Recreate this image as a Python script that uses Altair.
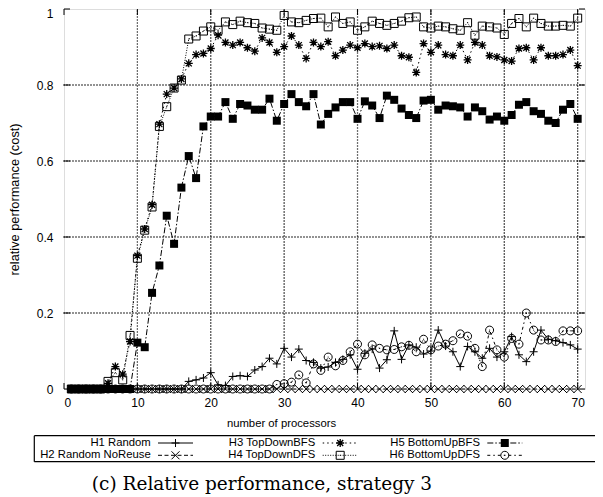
import altair as alt
import numpy as np
import pandas as pd

# ---------------- data ----------------
procs = list(range(1, 71))

h1_random = [0, 0, 0, 0, 0, 0, 0, 0, 0, 0, 0, 0, 0, 0, 0, 0,
             0.020, 0.024, 0.029, 0.043, 0.011, 0.009, 0.033, 0.035, 0.033, 0.050,
             0.059, 0.081, 0.066, 0.107, 0.084, 0.105, 0.075, 0.070, 0.055, 0.058,
             0.070, 0.078, 0.090, 0.052, 0.094, 0.105, 0.055, 0.077, 0.153, 0.078,
             0.116, 0.110, 0.092, 0.100, 0.155, 0.113, 0.098, 0.059, 0.112, 0.098,
             0.081, 0.107, 0.084, 0.098, 0.138, 0.090, 0.072, 0.098, 0.155, 0.131,
             0.127, 0.122, 0.116, 0.105]

h2_random_noreuse = [0, 0, 0, 0, 0, 0, 0, 0, 0, 0, 0, 0, 0, 0, 0, 0, 0, 0, 0, 0,
                     0, 0, 0, 0, 0, 0, 0, 0, 0, 0, 0, 0, 0, 0, 0, 0, 0, 0, 0, 0,
                     0, 0, 0, 0, 0, 0, 0, 0, 0, 0, 0, 0, 0, 0, 0, 0, 0, 0, 0, 0,
                     0, 0, 0, 0, 0, 0, 0, 0, 0, 0]

h3_topdown_bfs = [0, 0, 0, 0, 0, 0.015, 0.059, 0.039, 0.125, 0.351,
                  0.421, 0.485, 0.697, 0.776, 0.792, 0.816, 0.857, 0.880, 0.883, 0.896,
                  0.931, 0.912, 0.905, 0.912, 0.898, 0.889, 0.924, 0.912, 0.886, 0.901,
                  0.929, 0.905, 0.870, 0.912, 0.901, 0.914, 0.877, 0.892, 0.905, 0.898,
                  0.909, 0.901, 0.903, 0.896, 0.905, 0.877, 0.873, 0.833, 0.909, 0.886,
                  0.905, 0.880, 0.877, 0.905, 0.866, 0.912, 0.905, 0.877, 0.874, 0.866,
                  0.863, 0.896, 0.898, 0.866, 0.898, 0.877, 0.877, 0.880, 0.892, 0.851]

h4_topdown_dfs = [0, 0, 0, 0, 0, 0.020, 0.043, 0.024, 0.141, 0.344,
                  0.418, 0.479, 0.691, 0.743, 0.792, 0.813, 0.921, 0.929, 0.942, 0.953,
                  0.944, 0.966, 0.959, 0.968, 0.964, 0.962, 0.950, 0.947, 0.944, 0.983,
                  0.966, 0.964, 0.970, 0.975, 0.976, 0.953, 0.979, 0.962, 0.966, 0.944,
                  0.953, 0.968, 0.962, 0.957, 0.962, 0.968, 0.977, 0.979, 0.953, 0.950,
                  0.955, 0.953, 0.948, 0.944, 0.964, 0.931, 0.955, 0.953, 0.950, 0.933,
                  0.962, 0.975, 0.953, 0.976, 0.962, 0.955, 0.955, 0.957, 0.955, 0.976]

h5_bottomup_bfs = [0, 0, 0, 0, 0, 0, 0, 0, 0, 0.122,
                   0.110, 0.253, 0.325, 0.456, 0.382, 0.530, 0.613, 0.555, 0.691, 0.717,
                   0.717, 0.755, 0.711, 0.750, 0.746, 0.735, 0.735, 0.764, 0.706, 0.750,
                   0.776, 0.755, 0.744, 0.776, 0.696, 0.724, 0.741, 0.755, 0.755, 0.711,
                   0.757, 0.746, 0.713, 0.772, 0.761, 0.738, 0.721, 0.713, 0.759, 0.761,
                   0.735, 0.746, 0.744, 0.741, 0.717, 0.741, 0.731, 0.709, 0.717, 0.706,
                   0.721, 0.748, 0.755, 0.731, 0.724, 0.706, 0.700, 0.735, 0.750, 0.711]

h6_bottomup_dfs = [0, 0, 0, 0, 0, 0, 0, 0, 0, 0, 0, 0, 0, 0, 0, 0, 0, 0, 0, 0,
                   0, 0, 0, 0, 0, 0, 0, 0, 0.012, 0.014,
                   0.018, 0.037, 0.016, 0.066, 0.049, 0.084, 0.061, 0.075, 0.098, 0.118,
                   0.090, 0.116, 0.107, 0.103, 0.104, 0.111, 0.115, 0.098, 0.131, 0.103,
                   0.113, 0.118, 0.127, 0.145, 0.139, 0.107, 0.059, 0.155, 0.103, 0.084,
                   0.133, 0.118, 0.200, 0.155, 0.129, 0.129, 0.125, 0.153, 0.153, 0.153]

series_names = ["H1 Random", "H2 Random NoReuse", "H3 TopDownBFS",
                "H4 TopDownDFS", "H5 BottomUpBFS", "H6 BottomUpDFS"]
series_values = [h1_random, h2_random_noreuse, h3_topdown_bfs,
                 h4_topdown_dfs, h5_bottomup_bfs, h6_bottomup_dfs]

x_ticks = [0, 10, 20, 30, 40, 50, 60, 70]
y_ticks = [0, 0.2, 0.4, 0.6, 0.8, 1]

x_title = "number of processors"
y_title = "relative performance (cost)"
caption = "(c) Relative performance, strategy 3"

# ---------------- styles ----------------
TOP = 1
W, H = 521, 380
X_MAX = 71
SANS = "Liberation Sans"

PLUS = "M-1,0L1,0M0,-1L0,1"
CROSS = "M-1,-1L1,1M-1,1L1,-1"
STAR = "M-1,0L1,0M0,-1L0,1M-0.75,-0.75L0.75,0.75M-0.75,0.75L0.75,-0.75"
BOX = "M-1,-1L1,-1L1,1L-1,1Z M0,-0.12L0,0.12"
CIRC = "M1,0A1,1,0,1,1,-1,0A1,1,0,1,1,1,0Z M0,-0.12L0,0.12"

styles = [
    dict(dash=None, shape=PLUS, filled=False, sw=1.0),
    dict(dash=[4, 2.5], shape=CROSS, filled=False, sw=1.0),
    dict(dash=[1.5, 3], shape=STAR, filled=False, sw=1.3),
    dict(dash=[1, 1.5], shape=BOX, filled=False, sw=1.0),
    dict(dash=[6, 2, 1.5, 2], shape="square", filled=True, sw=1.0),
    dict(dash=[3, 3, 1.5, 3], shape=CIRC, filled=False, sw=1.0),
]

x_axis = alt.Axis(values=x_ticks, grid=False, domain=False, ticks=False, tickSize=0,
                  labelPadding=8, labelFontSize=12, labelFont=SANS, labelColor="black",
                  title=x_title, titleFont=SANS, titleFontSize=11.3,
                  titleFontWeight="normal", titleColor="black",
                  titleX=217, titleY=34, titleBaseline="middle", titleAlign="center")
y_axis = alt.Axis(values=y_ticks, format="~g", grid=False, domain=False, ticks=False,
                  tickSize=0, labelPadding=11, labelFontSize=12, labelFont=SANS,
                  labelColor="black",
                  labelOffset={"condition": {"test": "datum.value === 1", "value": 4},
                               "value": 0},
                  title=y_title, titleFont=SANS, titleFontSize=12.8,
                  titleFontWeight="normal", titleColor="black",
                  titleX=-49.5, titleY=190, titleAngle=270,
                  titleBaseline="middle", titleAlign="center")
x_scale = alt.Scale(domain=[0, X_MAX], nice=False, zero=False)
y_scale = alt.Scale(domain=[0, 1], nice=False)
x_enc = alt.X("procs:Q", scale=x_scale, axis=x_axis)
y_enc = alt.Y("value:Q", scale=y_scale, axis=y_axis)

layers = []

# dotted grid, built as rows of tiny dots along each tick line (about 3 px apart)
DOT_GAP = 3.0
grid_rows = []
ys_along = np.arange(0, H + 0.01, DOT_GAP) / H
for gx in x_ticks[1:]:
    for gy in ys_along:
        grid_rows.append({"procs": gx, "value": float(gy)})
xs_along = np.arange(0, W + 0.01, DOT_GAP) * X_MAX / W
for gy in y_ticks[1:-1]:
    for gx in xs_along:
        grid_rows.append({"procs": float(gx), "value": gy})
grid_df = pd.DataFrame(grid_rows)
layers.append(alt.Chart(grid_df).mark_square(size=1.6, color="#000000", opacity=0.9,
                                             clip=False).encode(x=x_enc, y=y_enc))

# data series
for name, vals, st in zip(series_names, series_values, styles):
    df = pd.DataFrame({"procs": procs, "value": vals})
    line_kw = dict(color="black", strokeWidth=1, clip=False)
    if st["dash"]:
        line_kw["strokeDash"] = st["dash"]
    layers.append(alt.Chart(df).mark_line(**line_kw).encode(x=x_enc, y=y_enc))
    if st["filled"]:
        pt = alt.Chart(df).mark_point(shape=st["shape"], filled=True, color="black",
                                      size=64, opacity=1, clip=False)
    else:
        pt = alt.Chart(df).mark_point(shape=st["shape"], filled=False, color="black",
                                      strokeWidth=st["sw"], size=64, opacity=1, clip=False)
    layers.append(pt.encode(x=x_enc, y=y_enc))

# inward tick marks on all four sides
xt_df = pd.DataFrame({"procs": x_ticks})
yt_df = pd.DataFrame({"value": y_ticks})
TL = 6
layers.append(alt.Chart(xt_df).mark_rule(color="black", strokeWidth=1).encode(
    x=x_enc, y=alt.value(H), y2=alt.value(H - TL)))
layers.append(alt.Chart(xt_df).mark_rule(color="black", strokeWidth=1).encode(
    x=x_enc, y=alt.value(0), y2=alt.value(TL)))
layers.append(alt.Chart(yt_df).mark_rule(color="black", strokeWidth=1).encode(
    y=y_enc, x=alt.value(0), x2=alt.value(TL)))
layers.append(alt.Chart(yt_df).mark_rule(color="black", strokeWidth=1).encode(
    y=y_enc, x=alt.value(W - TL), x2=alt.value(W)))

# ---------------- legend (gnuplot style, below the plot) ----------------
one = pd.DataFrame({"k": [0]})
BOX_L, BOX_R, BOX_T, BOX_B = -29.7, 540, 426.7, 452.7
for yy in (BOX_T, BOX_B):
    layers.append(alt.Chart(one).mark_rule(color="black", strokeWidth=1.2).encode(
        x=alt.value(BOX_L), x2=alt.value(BOX_R), y=alt.value(yy)))
layers.append(alt.Chart(one).mark_rule(color="black", strokeWidth=1.2).encode(
    x=alt.value(BOX_L), y=alt.value(BOX_T), y2=alt.value(BOX_B)))

col_text_right = [86.7, 251.3, 416.0]
col_sample = [(94.0, 129.0), (258.7, 293.7), (423.3, 458.3)]
row_y = [434.0, 446.3]
for i, (name, st) in enumerate(zip(series_names, styles)):
    c, r = i // 2, i % 2
    tx = col_text_right[c]
    sx1, sx2 = col_sample[c]
    yy = row_y[r]
    layers.append(alt.Chart(one).mark_text(align="right", baseline="middle",
                                           font=SANS, fontSize=11.3, color="black").encode(
        x=alt.value(tx), y=alt.value(yy), text=alt.value(name)))
    rule_kw = dict(color="black", strokeWidth=1)
    if st["dash"]:
        rule_kw["strokeDash"] = st["dash"]
    layers.append(alt.Chart(one).mark_rule(**rule_kw).encode(
        x=alt.value(sx1), x2=alt.value(sx2), y=alt.value(yy)))
    mx = (sx1 + sx2) / 2
    if st["filled"]:
        pm = alt.Chart(one).mark_point(shape=st["shape"], filled=True, color="black",
                                       size=64, opacity=1)
    else:
        pm = alt.Chart(one).mark_point(shape=st["shape"], filled=False, color="black",
                                       strokeWidth=st["sw"], size=64, opacity=1)
    layers.append(pm.encode(x=alt.value(mx), y=alt.value(yy)))

# caption
layers.append(alt.Chart(one).mark_text(align="center", baseline="middle",
                                       font="DejaVu Serif", fontSize=18.5,
                                       color="black").encode(
    x=alt.value(198), y=alt.value(475), text=alt.value(caption)))

chart = alt.layer(*layers).properties(
    width=W, height=H,
    autosize=alt.AutoSizeParams(type="none"),
    padding={"left": 56, "top": TOP, "right": 10, "bottom": 108},
).configure_view(
    stroke="black", strokeWidth=1.2
).configure(background="white")

chart.save("out.html", embed_options={"renderer": "svg", "actions": False})
